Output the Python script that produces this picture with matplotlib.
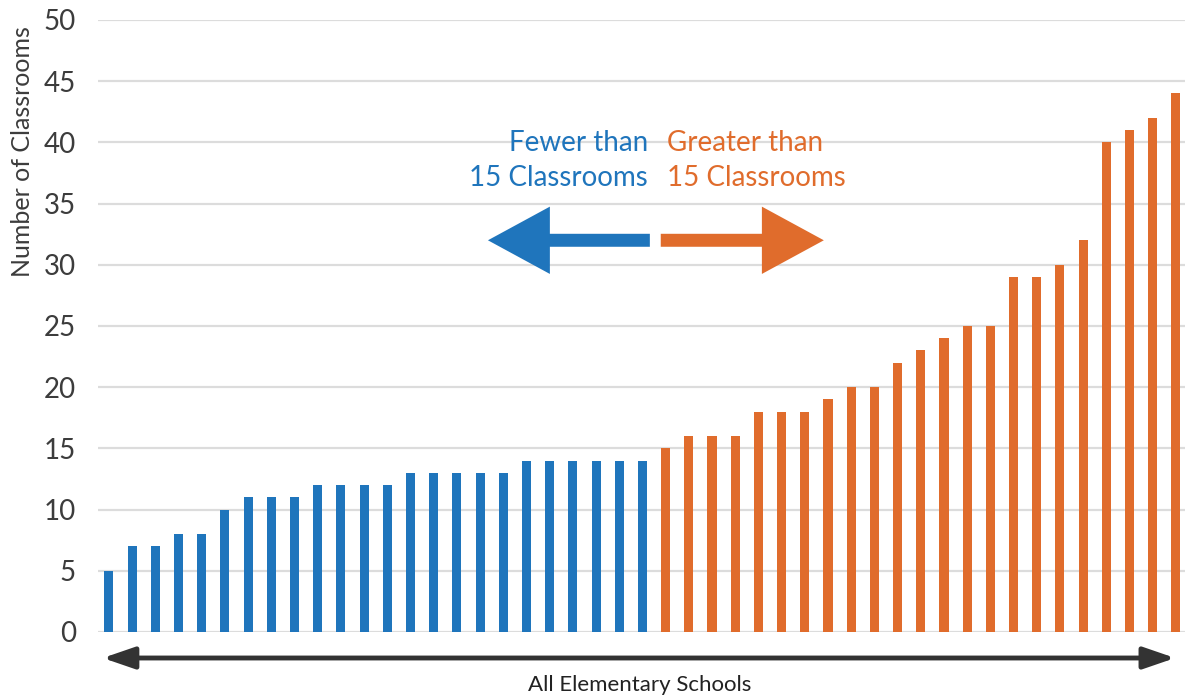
import numpy as np
import matplotlib
matplotlib.use("Agg")
import matplotlib.pyplot as plt
from matplotlib.patches import FancyArrow, FancyArrowPatch

plt.rcParams['font.family'] = ['Lato', 'DejaVu Sans']

# classrooms per elementary school, sorted
fewer = [5, 7, 7, 8, 8, 10, 11, 11, 11, 12, 12, 12, 12, 13, 13, 13, 13, 13,
         14, 14, 14, 14, 14, 14]
greater = [15, 16, 16, 16, 18, 18, 18, 19, 20, 20, 22, 23, 24, 25, 25, 29, 29,
           30, 32, 40, 41, 42, 44]
yticks = [0, 5, 10, 15, 20, 25, 30, 35, 40, 45, 50]

blue = '#1f75bc'
orange = '#e06c2c'
grey_txt = '#3c3c3c'

fig = plt.figure(figsize=(11.85, 6.98), dpi=100)
ax = fig.add_axes([0.0827, 0.0946, 0.9173, 0.8768])

x_blue = np.arange(len(fewer))
x_orange = np.arange(len(fewer), len(fewer) + len(greater))
ax.bar(x_blue, fewer, width=0.39, color=blue, zorder=3)
ax.bar(x_orange, greater, width=0.39, color=orange, zorder=3)

ax.set_xlim(-0.47, len(fewer) + len(greater) - 1 + 0.39)
ax.set_ylim(0, 50)
ax.set_yticks(yticks)
ax.set_xticks([])
ax.yaxis.grid(True, color='#dcdcdc', linewidth=1.6, zorder=0)
ax.set_axisbelow(True)
for s in ax.spines.values():
    s.set_visible(False)
ax.tick_params(axis='y', length=0, pad=16, labelsize=20, labelcolor=grey_txt)
ax.set_ylabel('Number of Classrooms', fontsize=18, color=grey_txt)
ax.yaxis.set_label_coords(-0.059, 0.785)

# annotation texts
ax.text(23.23, 38.55, 'Fewer than\n15 Classrooms', ha='right', va='center',
        color=blue, fontsize=20, linespacing=1.42, zorder=5)
ax.text(24.05, 38.55, 'Greater than\n15 Classrooms', ha='left', va='center',
        color=orange, fontsize=20, linespacing=1.42, zorder=5)

# big direction arrows
ax.add_patch(FancyArrow(23.32, 32.0, -6.98, 0, width=1.06, head_width=5.5,
                        head_length=2.67, length_includes_head=True,
                        color=blue, lw=0, zorder=5))
ax.add_patch(FancyArrow(23.79, 32.0, 7.03, 0, width=1.06, head_width=5.5,
                        head_length=2.67, length_includes_head=True,
                        color=orange, lw=0, zorder=5))

# bottom double arrow
fig.add_artist(FancyArrowPatch(
    (0.0844, 0.0573), (0.994, 0.0573), transform=fig.transFigure,
    arrowstyle='<|-|>,head_length=1.6,head_width=0.55', color='#333333',
    lw=3.5, mutation_scale=12))
fig.text(0.54, 0.018, 'All Elementary Schools', ha='center', va='center',
         fontsize=16, color='#222222')

fig.savefig('out.png', dpi=100)
